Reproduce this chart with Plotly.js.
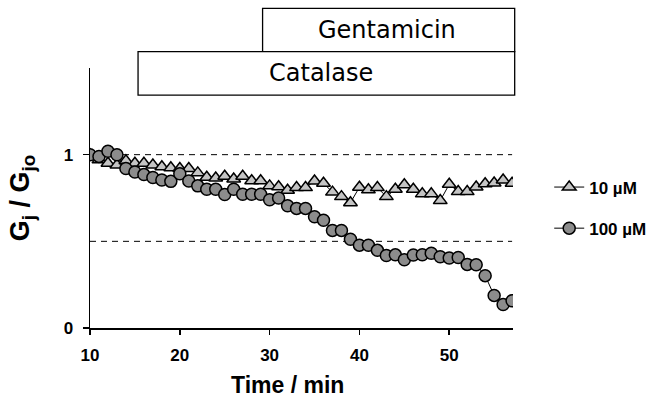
<!DOCTYPE html>
<html>
<head>
<meta charset="utf-8">
<script src="https://cdn.plot.ly/plotly-3.0.1.min.js"></script>
<style>html,body{margin:0;padding:0;background:#fff;}#chart{width:664px;height:411px;}</style>
</head>
<body>
<div id="chart"></div>
<script>
// Time points (min)
var time = [10,11,12,13,14,15,16,17,18,19,20,21,22,23,24,25,26,27,28,29,30,31,32,33,34,35,36,37,38,39,40,41,42,43,44,45,46,47,48,49,50,51,52,53,54,55,56,57];
// Gj/Gj0 for 10 uM gentamicin
var g10 = [1.00,0.97,0.95,0.94,0.965,0.95,0.95,0.94,0.93,0.925,0.92,0.92,0.895,0.87,0.865,0.875,0.86,0.875,0.85,0.85,0.82,0.815,0.795,0.81,0.81,0.848,0.835,0.784,0.758,0.723,0.812,0.797,0.81,0.758,0.80,0.826,0.80,0.774,0.774,0.735,0.829,0.787,0.787,0.813,0.832,0.837,0.854,0.835];
// Gj/Gj0 for 100 uM gentamicin
var g100 = [1.00,0.99,1.02,1.00,0.92,0.90,0.885,0.868,0.854,0.846,0.89,0.848,0.82,0.80,0.80,0.77,0.80,0.772,0.772,0.772,0.74,0.75,0.705,0.69,0.69,0.642,0.622,0.563,0.563,0.512,0.478,0.477,0.448,0.418,0.422,0.394,0.421,0.423,0.431,0.411,0.404,0.407,0.367,0.365,0.302,0.188,0.136,0.157];
var seriesNames = ['10 \u00b5M', '100 \u00b5M'];
var xTicks = [10, 20, 30, 40, 50];
var yTicks = [0, 1];
var refLevels = [1, 0.5];
var treatments = ['Gentamicin', 'Catalase'];

var bold = {family: 'Liberation Sans, Arial, sans-serif', size: 17, color: '#000', weight: 'bold'};

var traces = [
  {x: time, y: g10, name: seriesNames[0], type: 'scatter', mode: 'lines+markers',
   line: {color: '#000', width: 1},
   marker: {symbol: 'triangle-up', size: 12, color: '#c4c4c4', line: {color: '#000', width: 1.5}},
   legendgroup: 'a'},
  {x: time, y: g100, name: seriesNames[1], type: 'scatter', mode: 'lines+markers',
   line: {color: '#000', width: 1},
   marker: {symbol: 'circle', size: 12, color: '#8c8c8c', line: {color: '#000', width: 1.5}},
   legendgroup: 'b'}
];

var shapes = refLevels.map(function(v){
  return {type: 'line', xref: 'x', yref: 'y', x0: 10, x1: 57, y0: v, y1: v,
          line: {color: '#000', width: 1, dash: '6px,5px'}, layer: 'below'};
});
// Treatment bars (Gentamicin on top, Catalase below)
shapes.push({type: 'rect', xref: 'paper', yref: 'paper', x0: 0.408, x1: 1.004, y0: 1.0627, y1: 1.2296,
  line: {color: '#000', width: 1.3}, fillcolor: 'rgba(0,0,0,0)'});
shapes.push({type: 'rect', xref: 'paper', yref: 'paper', x0: 0.1136, x1: 1.004, y0: 0.896, y1: 1.0627,
  line: {color: '#000', width: 1.3}, fillcolor: '#fff'});

var annotations = [
  {text: treatments[0], xref: 'paper', yref: 'paper', x: 0.701, y: 1.1455, xanchor: 'center', yanchor: 'middle',
   showarrow: false, font: {family: 'DejaVu Sans, sans-serif', size: 24, color: '#000'}},
  {text: treatments[1], xref: 'paper', yref: 'paper', x: 0.545, y: 0.9795, xanchor: 'center', yanchor: 'middle',
   showarrow: false, font: {family: 'DejaVu Sans, sans-serif', size: 24, color: '#000'}},
  {text: 'Time / min', xref: 'paper', yref: 'paper', x: 0.468, y: -0.219, xanchor: 'center', yanchor: 'middle',
   showarrow: false, font: {family: 'Liberation Sans, Arial, sans-serif', size: 23, color: '#000', weight: 'bold'}},
  {text: 'G<sub>j</sub> / G<sub>jo</sub>', xref: 'paper', yref: 'paper', x: -0.16, y: 0.5, xanchor: 'center', yanchor: 'middle',
   textangle: -90, showarrow: false, font: {family: 'Liberation Sans, Arial, sans-serif', size: 27, color: '#000', weight: 'bold'}}
];

var layout = {
  width: 664, height: 411,
  margin: {l: 90, r: 149, t: 68, b: 83},
  paper_bgcolor: '#fff', plot_bgcolor: '#fff',
  showlegend: true,
  legend: {x: 1.0856, y: 0.4615, xanchor: 'left', yanchor: 'middle', font: bold,
           tracegroupgap: 16, bgcolor: 'rgba(0,0,0,0)'},
  xaxis: {range: [10, 57.1], tickvals: xTicks, ticks: 'outside', ticklen: 5, tickwidth: 1.5, tickcolor: '#000',
          showline: true, linecolor: '#000', linewidth: 1.5, showgrid: false, zeroline: false,
          tickfont: bold, ticklabelstandoff: 6},
  yaxis: {range: [0, 1.5], tickvals: yTicks, ticks: 'outside', ticklen: 6, tickwidth: 1.5, tickcolor: '#000',
          showline: true, linecolor: '#000', linewidth: 1.5, showgrid: false, zeroline: false,
          tickfont: bold, ticklabelstandoff: 6},
  shapes: shapes,
  annotations: annotations
};

Plotly.newPlot('chart', traces, layout, {displayModeBar: false, staticPlot: true});
</script>
</body>
</html>
